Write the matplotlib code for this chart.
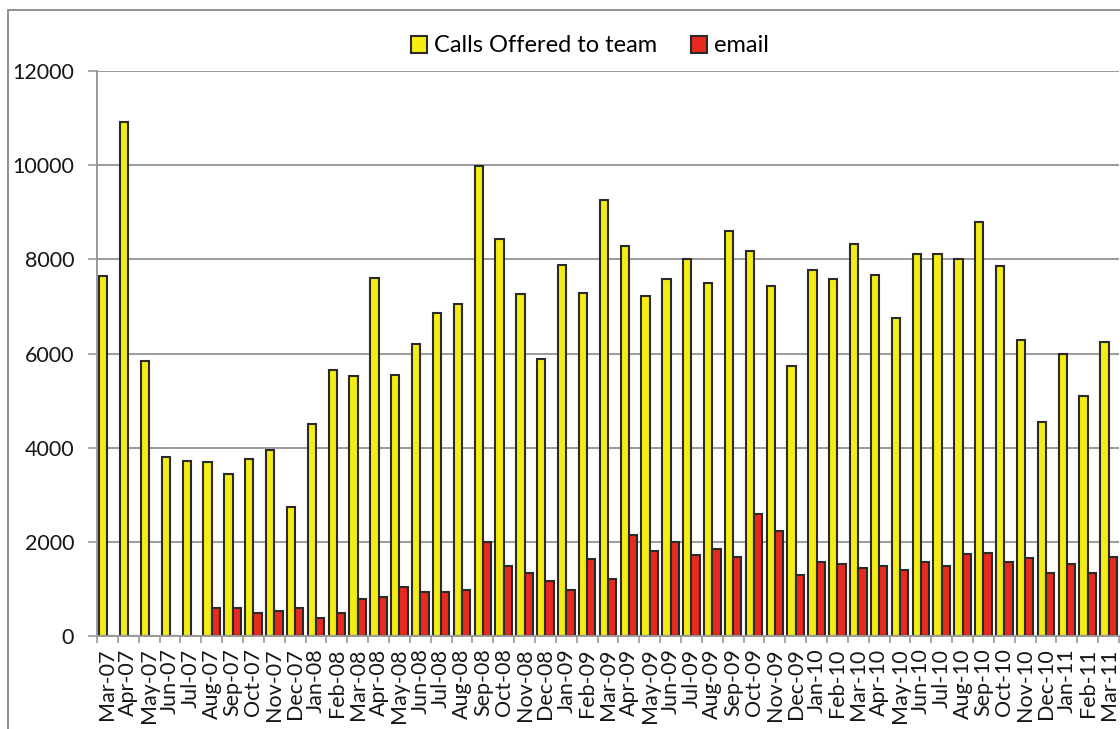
import numpy as np
import matplotlib
matplotlib.use("Agg")
import matplotlib.pyplot as plt
from matplotlib.patches import Rectangle

#data
months = ["Mar-07", "Apr-07", "May-07", "Jun-07", "Jul-07", "Aug-07", "Sep-07", "Oct-07",
          "Nov-07", "Dec-07", "Jan-08", "Feb-08", "Mar-08", "Apr-08", "May-08", "Jun-08",
          "Jul-08", "Aug-08", "Sep-08", "Oct-08", "Nov-08", "Dec-08", "Jan-09", "Feb-09",
          "Mar-09", "Apr-09", "May-09", "Jun-09", "Jul-09", "Aug-09", "Sep-09", "Oct-09",
          "Nov-09", "Dec-09", "Jan-10", "Feb-10", "Mar-10", "Apr-10", "May-10", "Jun-10",
          "Jul-10", "Aug-10", "Sep-10", "Oct-10", "Nov-10", "Dec-10", "Jan-11", "Feb-11",
          "Mar-11"]
calls = [7650, 10910, 5845, 3795, 3720, 3685, 3450, 3765, 3960, 2745, 4510, 5660,
         5530, 7610, 5535, 6210, 6870, 7060, 9980, 8440, 7255, 5880, 7880, 7295,
         9265, 8275, 7225, 7575, 8015, 7490, 8600, 8170, 7430, 5730, 7780, 7580,
         8320, 7660, 6755, 8120, 8120, 8015, 8800, 7850, 6280, 4550, 6000, 5100,
         6235]
email = [0, 0, 0, 0, 0, 590, 590, 495, 540, 590, 390, 495,
         785, 820, 1045, 935, 940, 975, 2000, 1485, 1330, 1175, 975, 1640,
         1210, 2155, 1805, 2000, 1725, 1840, 1685, 2585, 2230, 1290, 1570, 1530,
         1445, 1485, 1410, 1570, 1495, 1735, 1770, 1570, 1650, 1335, 1530, 1330,
         1685]

plt.rcParams['font.family'] = ['Lato', 'DejaVu Sans']
plt.rcParams['font.size'] = 15.5

W, H = 1120, 729
fig = plt.figure(figsize=(W/100, H/100), dpi=100)

#outer chart frame (cut off at right and bottom like the screenshot)
fig.add_artist(Rectangle((8/W, -0.2), 1.2, 1.2 - 10/H, transform=fig.transFigure,
                         fill=False, edgecolor="#8f8f8f", linewidth=1.4, clip_on=False))

ax = fig.add_axes([97/W, 1 - 636/H, (1119 - 97)/W, (636 - 71)/H])

x = np.arange(len(months))
bw = 0.4
ax.bar(x - bw/2, calls, bw, color="#f5ec14", edgecolor="#2a2a2a", linewidth=1.5,
       label="Calls Offered to team", zorder=2)
ax.bar(x + bw/2, email, bw, color="#e8291e", edgecolor="#2a2a2a", linewidth=1.5,
       label="email", zorder=2)

ax.set_xlim(-0.5, len(months) - 0.5)
ax.set_ylim(0, 12000)
ax.set_yticks(np.arange(0, 12001, 2000))
ax.yaxis.grid(True, color="#9a9a9a", linewidth=1.4, zorder=0)
ax.set_axisbelow(True)

ax.set_xticks(x)
ax.set_xticklabels(months, rotation=90)
ax.set_xticks(np.arange(-0.5, len(months)), minor=True)
ax.tick_params(axis="x", which="major", length=0, pad=9, colors="#161616")
ax.tick_params(axis="x", which="minor", length=5, width=1.2, color="#9a9a9a")
ax.tick_params(axis="y", length=6.5, width=1.2, color="#9a9a9a", pad=10, labelcolor="#161616")

for s in ["top", "right"]:
    ax.spines[s].set_visible(False)
for s in ["left", "bottom"]:
    ax.spines[s].set_color("#9a9a9a")
    ax.spines[s].set_linewidth(1.4)

fig.legend(loc="center", bbox_to_anchor=(590/W, 1 - 46/H), ncol=2, frameon=False,
           fontsize=17, handlelength=0.7, handleheight=0.75, handletextpad=0.3,
           columnspacing=1.4, borderpad=0)

fig.savefig("out.png", dpi=100)
